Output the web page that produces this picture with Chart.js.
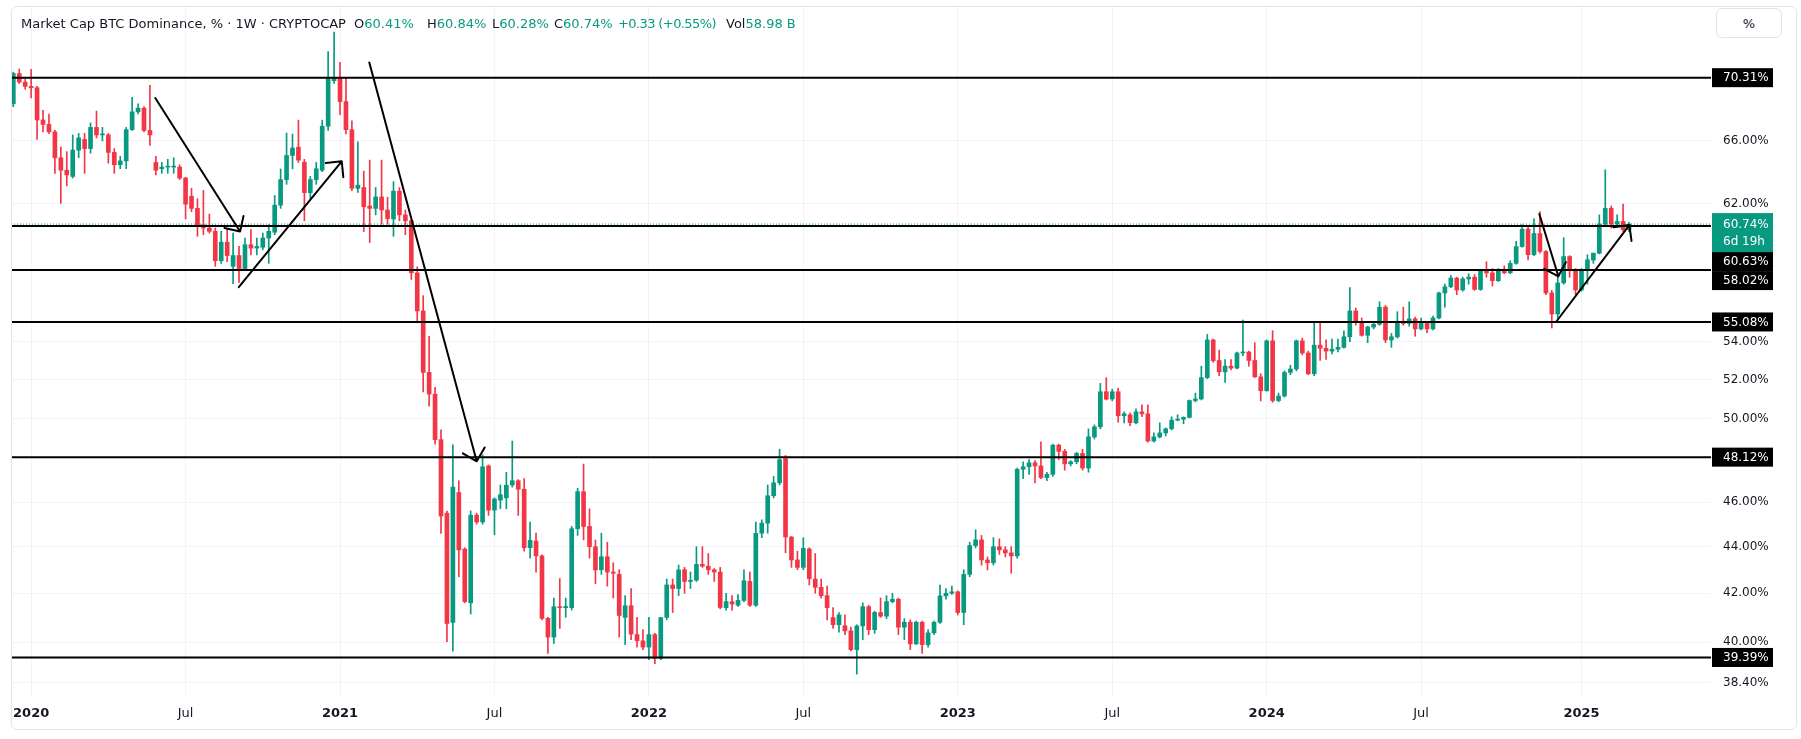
<!DOCTYPE html>
<html>
<head>
<meta charset="utf-8">
<script src="https://cdn.jsdelivr.net/npm/chart.js@4.4.1/dist/chart.umd.min.js"></script>
<style>
html,body{margin:0;padding:0;background:#fff;}
#wrap{position:relative;width:1801px;height:739px;overflow:hidden;}
#frame{position:absolute;left:11px;top:6px;width:1784px;height:722px;border:1px solid #e0e3eb;border-radius:6px;pointer-events:none;}
#legend{position:absolute;left:0;top:16px;font:13px "DejaVu Sans",sans-serif;color:#131722;white-space:nowrap;}
#legend span{position:absolute;top:0;}
#legend .v{position:static;color:#089981;}
#pct{position:absolute;left:1716px;top:8px;width:64px;height:28px;border:1px solid #e0e3eb;border-radius:6px;font:13px "DejaVu Sans",sans-serif;color:#131722;background:#fff;display:flex;align-items:center;justify-content:center;}
</style>
</head>
<body>
<div id="wrap">
  <canvas id="c" width="1801" height="739"></canvas>
  <div id="frame"></div>
  <div id="legend"><span style="left:21px">Market Cap BTC Dominance, % · 1W · CRYPTOCAP</span><span style="left:354px">O<span class="v">60.41%</span></span><span style="left:427px">H<span class="v">60.84%</span></span><span style="left:492px">L<span class="v">60.28%</span></span><span style="left:554px">C<span class="v">60.74%</span></span><span style="left:618px;color:#089981;letter-spacing:-0.6px">+0.33 (+0.55%)</span><span style="left:726px">Vol<span class="v">58.98 B</span></span></div>
  <div id="pct">%</div>
</div>
<script>
// weekly candles, Dec 2019 -> Mar 2025 (index 0 = week of 16 Dec 2019)
const opens = [
68.50,70.60,70.00,69.70,69.60,67.40,67.10,66.60,64.90,64.10,
63.70,65.40,66.10,65.50,66.90,66.40,66.40,65.25,64.45,64.70,
66.75,67.95,68.20,66.70,64.60,64.20,64.30,64.30,64.30,63.60,
62.45,61.70,60.70,60.50,60.30,58.56,59.65,58.23,58.86,58.10,
59.50,59.30,59.35,59.90,60.25,61.90,63.50,65.05,65.59,64.61,
62.68,63.50,64.10,66.98,70.10,70.25,68.65,66.75,62.95,63.00,
61.85,61.70,62.41,61.60,61.05,62.77,61.30,60.94,57.85,55.69,
52.37,51.25,48.97,45.50,40.79,46.45,43.90,41.60,45.41,45.10,
47.70,45.64,46.10,46.20,46.80,47.00,46.60,43.96,44.25,43.60,
40.96,40.20,41.44,41.40,41.40,44.80,46.49,44.90,44.00,43.00,
43.56,42.90,42.80,41.00,41.48,40.30,40.05,39.80,40.30,39.35,
41.00,42.35,42.20,43.00,42.50,42.55,43.23,43.15,43.00,42.90,
41.40,41.65,41.50,41.70,42.50,41.50,44.60,45.05,46.30,46.90,
48.05,44.43,43.42,43.10,43.90,42.60,42.25,41.90,40.99,40.70,
40.66,40.45,39.70,40.65,41.44,40.50,41.20,41.05,41.65,41.75,
40.60,40.80,39.93,40.80,39.90,40.37,40.80,41.89,42.00,42.06,
41.20,42.80,44.05,44.30,43.42,43.30,44.00,43.86,43.73,43.60,
47.54,47.66,47.85,47.70,47.15,47.30,48.70,48.40,47.80,47.90,
48.30,47.60,49.10,49.60,51.37,51.00,51.37,50.15,50.20,49.80,
50.35,50.25,48.90,49.10,49.30,49.50,49.93,49.98,50.07,50.92,
51.00,52.10,54.10,53.00,52.40,52.70,52.60,53.40,53.45,53.00,
52.14,51.42,54.05,50.92,51.15,52.37,52.55,54.05,53.40,52.30,
53.82,53.65,53.50,53.60,53.70,54.27,55.69,55.10,54.35,54.80,
54.95,55.90,54.10,54.27,55.12,55.00,55.25,54.70,55.00,54.70,
55.30,56.70,57.05,57.55,56.87,57.50,57.60,56.90,58.00,57.85,
57.40,58.05,57.85,58.40,59.39,60.43,58.91,60.17,59.10,56.70,
55.52,57.27,58.80,58.00,56.87,58.00,58.60,59.00,60.74,61.70,
60.74,60.90,60.41];
const highs = [
70.70,70.92,70.20,70.90,69.70,68.06,67.80,66.70,65.60,65.30,
66.40,66.50,66.50,67.20,68.00,66.90,66.50,65.50,65.00,66.90,
68.95,68.50,68.30,69.77,65.00,64.60,64.80,64.90,64.45,63.65,
62.96,62.30,62.82,61.35,60.50,60.30,60.40,60.20,59.40,59.90,
60.40,59.90,60.20,60.70,62.50,64.18,66.52,66.46,67.39,64.80,
63.70,64.60,67.39,72.16,73.58,71.39,70.30,67.35,65.94,64.04,
64.75,63.00,64.75,62.40,63.37,63.00,61.60,61.00,58.20,56.55,
54.29,51.60,49.45,45.60,48.72,47.00,43.95,45.60,45.50,48.23,
47.75,46.20,46.80,47.40,48.90,47.05,47.10,45.10,44.60,43.65,
41.00,41.80,42.62,41.80,44.90,46.65,47.79,45.70,44.30,44.60,
44.20,43.30,43.00,41.90,42.20,41.00,40.50,41.00,40.35,41.00,
42.60,42.60,43.20,43.10,42.90,44.00,44.00,43.70,43.05,43.10,
42.00,41.90,41.95,43.00,42.90,45.10,45.20,46.80,47.20,48.50,
48.20,44.45,43.80,44.40,43.95,43.70,42.60,42.30,41.40,41.20,
41.10,40.60,40.70,41.60,41.50,41.25,41.80,41.90,42.00,41.80,
40.95,40.90,40.85,40.85,40.50,40.85,42.35,42.20,42.30,42.10,
43.00,44.20,44.75,44.50,43.55,44.40,44.35,44.00,44.00,47.60,
47.90,48.00,47.95,48.86,47.40,48.75,48.75,48.50,47.95,48.35,
48.50,49.50,49.70,51.80,52.10,51.50,51.55,50.35,50.30,50.50,
50.70,50.70,49.30,49.80,49.55,50.10,50.20,50.10,50.95,51.30,
52.70,54.40,54.15,53.55,53.05,53.05,53.45,55.18,53.50,53.95,
52.30,54.10,54.60,51.30,52.45,52.75,54.10,54.20,53.50,55.07,
55.00,54.10,54.15,54.15,54.60,57.00,55.85,55.30,54.85,55.05,
56.20,56.00,54.45,55.65,55.90,56.20,55.35,55.30,55.10,55.40,
56.75,57.20,57.70,57.60,57.60,57.80,57.75,58.00,58.50,58.10,
58.10,58.25,58.55,59.70,60.70,60.60,61.06,61.51,59.15,56.85,
57.60,59.92,58.85,58.10,58.10,58.90,59.00,61.30,64.13,61.85,
61.30,61.96,60.84];
const lows = [
68.30,69.90,69.50,68.90,66.10,66.60,66.50,63.90,62.00,63.10,
63.60,64.90,63.90,65.20,66.20,66.00,64.55,63.90,64.20,64.20,
66.70,67.80,66.60,65.70,63.80,63.90,63.90,63.90,63.50,61.05,
61.50,60.00,60.10,60.20,58.23,58.40,58.50,57.23,57.30,58.00,
58.90,58.90,59.20,58.40,60.10,61.70,63.20,64.19,64.60,60.94,
62.30,63.20,64.00,66.70,69.90,67.75,66.46,62.80,62.70,60.29,
59.63,61.30,60.73,60.73,60.00,60.94,60.10,57.47,55.12,51.36,
50.63,48.75,44.59,40.02,39.64,42.70,41.60,41.14,45.00,45.00,
45.40,44.53,45.70,45.70,46.70,45.40,43.80,43.50,42.90,40.90,
39.55,39.95,40.55,41.00,41.30,44.50,44.30,43.50,42.40,42.80,
42.30,41.80,40.20,39.90,40.10,39.80,39.70,39.30,39.15,39.30,
40.90,41.20,41.90,42.00,42.20,42.50,43.10,42.80,42.50,41.35,
41.30,41.30,41.45,41.65,41.45,41.45,44.40,44.60,46.20,46.80,
43.74,43.10,43.00,43.00,42.35,42.00,41.80,40.90,40.55,40.40,
40.30,39.65,38.74,40.10,40.30,40.35,41.00,40.95,41.60,40.30,
40.10,39.70,39.90,39.55,39.80,40.30,40.75,41.75,41.95,41.10,
40.70,42.70,43.95,43.20,42.99,43.20,43.66,43.55,42.85,43.50,
47.10,47.30,46.90,47.10,47.00,47.20,48.00,47.50,47.70,47.80,
47.50,47.40,49.00,49.50,50.95,50.90,49.83,49.80,49.66,49.75,
50.10,48.85,48.85,49.05,49.15,49.45,49.90,49.75,50.05,50.85,
50.95,52.05,52.90,52.20,51.85,52.50,52.55,53.25,52.70,52.10,
50.90,51.40,50.83,50.85,51.10,52.25,52.45,53.30,52.25,52.20,
53.00,53.05,53.35,53.45,53.65,54.00,54.90,54.30,53.95,54.70,
54.90,53.95,53.70,54.20,54.90,54.85,54.30,54.65,54.50,54.65,
55.25,55.90,57.00,56.60,56.80,57.20,56.85,56.85,57.60,57.10,
57.35,57.80,57.80,58.35,59.35,58.60,58.85,59.00,56.60,54.75,
55.30,57.20,57.60,56.60,56.80,57.20,58.40,58.95,60.70,60.50,
60.70,60.30,60.28];
const closes = [
70.60,70.00,69.70,69.60,67.40,67.10,66.60,64.90,64.10,63.80,
65.40,66.20,65.50,66.90,66.40,66.45,65.25,64.45,64.70,66.75,
67.95,68.20,66.70,66.40,64.10,64.30,64.32,64.32,63.60,61.96,
61.70,60.70,60.50,60.30,58.56,59.65,58.86,58.86,58.10,59.50,
59.30,59.40,59.90,60.30,61.90,63.50,65.05,65.54,64.75,62.68,
63.50,64.19,66.98,70.25,70.30,68.65,66.75,62.95,63.15,61.80,
61.70,62.41,61.60,61.07,62.77,61.30,60.94,57.85,55.69,52.37,
51.25,48.97,45.37,40.75,46.70,43.86,41.65,45.41,45.10,47.66,
45.64,46.15,46.35,46.79,47.00,46.60,43.96,44.28,43.60,40.96,
40.20,41.44,41.40,41.45,44.80,46.49,44.90,44.00,42.99,43.56,
42.90,42.85,41.08,41.48,40.32,40.05,39.80,40.30,39.35,40.99,
42.35,42.20,42.99,42.50,42.55,43.23,43.15,43.00,42.90,41.41,
41.65,41.55,41.70,42.53,41.50,44.59,45.05,46.30,46.90,48.00,
44.43,43.42,43.10,43.93,42.62,42.25,41.90,41.40,40.70,41.10,
40.45,39.70,40.65,41.44,40.50,41.20,41.05,41.65,41.75,40.60,
40.80,39.93,40.80,39.90,40.37,40.80,41.89,42.00,42.06,41.20,
42.80,44.05,44.30,43.42,43.30,44.00,43.86,43.73,43.60,47.54,
47.66,47.85,47.70,47.15,47.30,48.70,48.40,47.80,47.90,48.30,
47.60,49.11,49.60,51.37,50.99,51.37,50.15,50.25,49.81,50.35,
50.25,48.90,49.10,49.30,49.50,49.93,49.98,50.07,50.92,51.00,
52.10,54.10,52.99,52.40,52.70,52.60,53.40,53.45,53.00,52.14,
51.42,54.05,50.92,51.15,52.37,52.55,54.05,53.40,52.30,53.82,
53.65,53.50,53.60,53.70,54.27,55.69,55.10,54.35,54.80,54.95,
55.90,54.10,54.27,55.12,55.00,55.25,54.70,55.00,54.70,55.30,
56.70,57.05,57.55,56.87,57.50,57.60,56.90,57.98,57.85,57.40,
58.05,57.85,58.40,59.39,60.43,58.91,60.17,59.10,56.70,55.52,
57.27,58.80,58.00,56.87,58.00,58.61,59.00,60.74,61.70,60.74,
60.90,60.41,60.74];

// time axis: bar index of first weekly bar of each period
const tickIdx = [3, 29, 55, 81, 107, 133, 159, 185, 211, 237, 264];
const tickText = ['2020','Jul','2021','Jul','2022','Jul','2023','Jul','2024','Jul','2025'];
const yTicks = [38.4, 40, 42, 44, 46, 50, 52, 54, 62, 66];

// drawn horizontal levels + last price
const levels = [70.31, 60.63, 58.02, 55.08, 48.12, 39.39];
const lastPrice = 60.74;
const countdown = '6d 19h';

// drawn arrows: [bar index, value] start -> end
const arrowFrom = [[23.9, 68.89], [37.95, 57.03], [59.93, 71.39], [256.9, 61.35], [259.8, 55.12]];
const arrowTo   = [[38.17, 60.29], [55.29, 64.67], [78.01, 47.92], [260.1, 57.65], [272.05, 60.68]];

const UP = '#089981', DOWN = '#F23645';
const X_MIN = -0.39, X_MAX = 285.8, Y_MIN = 37.94, Y_MAX = 75.53;
const FONT = '"DejaVu Sans", sans-serif';

const idx = opens.map((_, i) => i);
const candleColor = c => closes[c.dataIndex] >= opens[c.dataIndex] ? UP : DOWN;

const levelSets = levels.map(v => ({
  type: 'line', data: [{x: X_MIN, y: v}, {x: X_MAX, y: v}],
  borderColor: '#000', borderWidth: 2, pointRadius: 0, order: 1
}));

const overlay = {
  id: 'overlay',
  afterDatasetsDraw(chart) {
    const c = chart.ctx, xs = chart.scales.x, ys = chart.scales.y;
    c.save();
    c.strokeStyle = '#000'; c.lineWidth = 2; c.lineCap = 'round'; c.lineJoin = 'round';
    arrowFrom.forEach((p, i) => {
      const x1 = xs.getPixelForValue(p[0]), y1 = ys.getPixelForValue(p[1]);
      const x2 = xs.getPixelForValue(arrowTo[i][0]), y2 = ys.getPixelForValue(arrowTo[i][1]);
      const a = Math.atan2(y2 - y1, x2 - x1), L = 16, s = Math.PI / 4;
      c.beginPath();
      c.moveTo(x1, y1); c.lineTo(x2, y2);
      c.moveTo(x2 - L * Math.cos(a - s), y2 - L * Math.sin(a - s));
      c.lineTo(x2, y2);
      c.lineTo(x2 - L * Math.cos(a + s), y2 - L * Math.sin(a + s));
      c.stroke();
    });
    c.restore();
  },
  afterDraw(chart) {
    // price-scale tags, stacked downwards when they would overlap
    const c = chart.ctx, ys = chart.scales.y, left = chart.chartArea.right + 1;
    const tags = [{v: lastPrice, bg: UP, lines: [lastPrice.toFixed(2) + '%', countdown]}]
      .concat(levels.map(v => ({v, bg: '#000', lines: [v.toFixed(2) + '%']})))
      .map(t => ({...t, cy: ys.getPixelForValue(t.v)}))
      .sort((a, b) => a.cy - b.cy);
    let prev = -1e9;
    c.save();
    c.font = '12px ' + FONT; c.textBaseline = 'middle'; c.textAlign = 'left';
    tags.forEach(t => {
      const h = t.lines.length > 1 ? 39 : 19;
      const top = Math.max(t.cy - 9.5 - (t.lines.length > 1 ? 1.5 : 0), prev);
      prev = top + h;
      c.fillStyle = t.bg;
      c.fillRect(left, top, 61, h);
      c.fillStyle = '#fff';
      t.lines.forEach((s, k) => c.fillText(s, left + 11, top + (t.lines.length > 1 ? 11.5 : 10) + k * 17));
    });
    c.restore();
  }
};

new Chart(document.getElementById('c'), {
  type: 'bar',
  data: {
    datasets: [
      {data: idx.map(i => ({x: i, y: [lows[i], highs[i]]})), backgroundColor: candleColor,
       barThickness: 1, grouped: false, order: 3},
      {data: idx.map(i => ({x: i, y: [opens[i], closes[i]]})), backgroundColor: candleColor,
       barThickness: 4, minBarLength: 1, grouped: false, order: 2},
      ...levelSets,
      {type: 'line', data: [{x: X_MIN, y: lastPrice}, {x: X_MAX, y: lastPrice}],
       borderColor: UP, borderWidth: 1, borderDash: [1, 2], pointRadius: 0, order: 0}
    ]
  },
  options: {
    responsive: false, animation: false, devicePixelRatio: 1, events: [],
    layout: {padding: {left: 11, top: 6, right: 0, bottom: 0}},
    plugins: {legend: {display: false}, tooltip: {enabled: false}},
    scales: {
      x: {
        type: 'linear', min: X_MIN, max: X_MAX, offset: false,
        afterBuildTicks: s => { s.ticks = tickIdx.map(v => ({value: v})); },
        afterFit: s => { s.height = 44; s.paddingLeft = 0; s.paddingRight = 0; },
        ticks: {
          autoSkip: false, maxRotation: 0, padding: 11, color: '#131722',
          font: ctx => ({family: FONT, size: 13,
            weight: (ctx.tick && tickText[tickIdx.indexOf(ctx.tick.value)] === 'Jul') ? 'normal' : 'bold'}),
          callback: v => tickText[tickIdx.indexOf(v)]
        },
        grid: {color: '#f0f3fa', drawTicks: false, offset: false},
        border: {display: false}
      },
      y: {
        type: 'logarithmic', position: 'right', min: Y_MIN, max: Y_MAX,
        afterBuildTicks: s => { s.ticks = yTicks.map(v => ({value: v})); },
        afterFit: s => { s.width = 90; s.paddingTop = 0; s.paddingBottom = 0; },
        ticks: {padding: 12, color: '#131722', font: {family: FONT, size: 12},
          callback: v => Number(v).toFixed(2) + '%'},
        grid: {color: '#f0f3fa', drawTicks: false},
        border: {display: false}
      }
    }
  },
  plugins: [overlay]
});
</script>
</body>
</html>
